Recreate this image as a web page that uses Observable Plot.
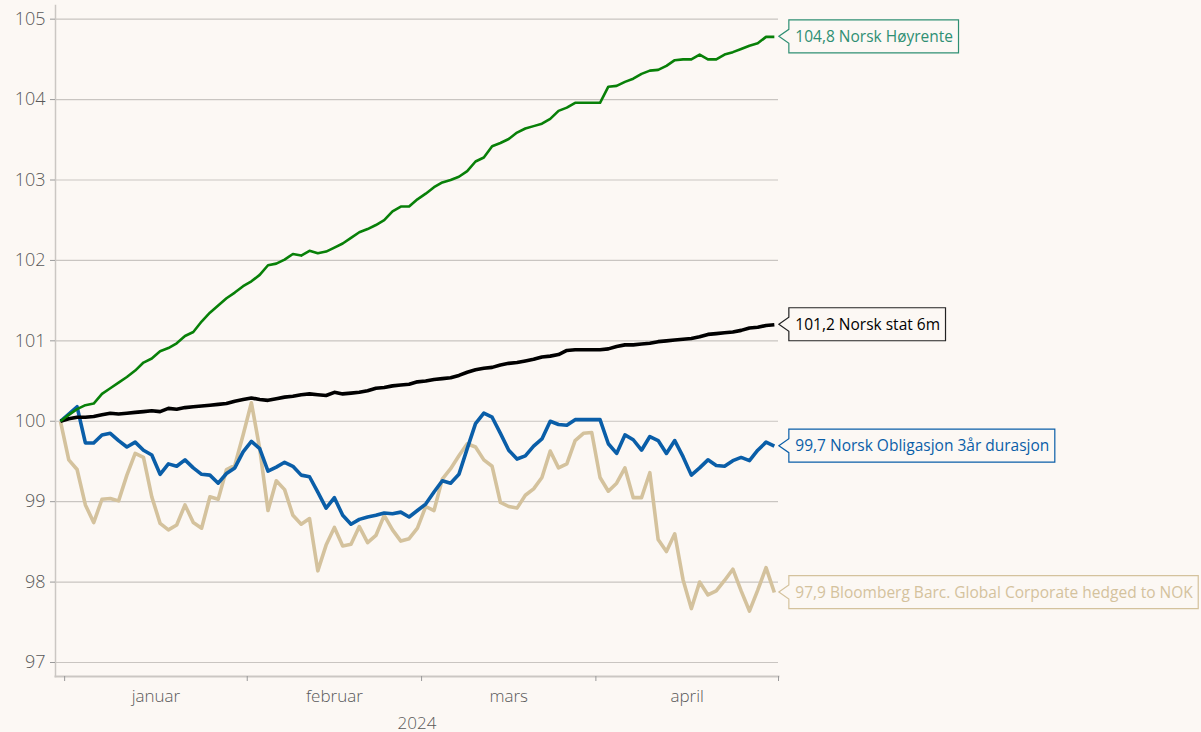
<!DOCTYPE html>
<html><head><meta charset="utf-8">
<script src="https://cdn.jsdelivr.net/npm/d3@7"></script>
<script src="https://cdn.jsdelivr.net/npm/@observablehq/plot@0.6"></script>
<style>
html,body{margin:0;padding:0;background:#fcf8f4;}
#chart svg{display:block;}
</style></head><body><div id="chart"></div>
<script>
// Category axis: base point + business days per month
const months = ["januar", "februar", "mars", "april"];
const monthDays = [22, 21, 21, 22];
const yearLabel = "2024";
const yTicks = [97, 98, 99, 100, 101, 102, 103, 104, 105];

const seriesNames = ["Norsk Høyrente", "Norsk stat 6m", "Norsk Obligasjon 3år durasjon", "Bloomberg Barc. Global Corporate hedged to NOK"];
const seriesColors = ["#088008", "#000000", "#0a5ea8", "#d4c29d"];
const labelColors = ["#2f8f73", "#000000", "#0a5ea8", "#d4c29d"];
const boxColors = ["#2f8f73", "#222222", "#0a5ea8", "#d4c29d"];

const hoyrente = [100, 100.08, 100.15, 100.2, 100.22, 100.34, 100.41, 100.48, 100.55, 100.63,
  100.73, 100.78, 100.87, 100.91, 100.97, 101.06, 101.11, 101.24, 101.35, 101.44,
  101.53, 101.6, 101.68, 101.74, 101.82, 101.94, 101.96, 102.01, 102.08, 102.06,
  102.12, 102.09, 102.11, 102.16, 102.21, 102.28, 102.35, 102.39, 102.44, 102.5,
  102.61, 102.67, 102.67, 102.76, 102.83, 102.91, 102.97, 103.0, 103.04, 103.11,
  103.23, 103.28, 103.42, 103.46, 103.51, 103.59, 103.64, 103.67, 103.7, 103.76,
  103.86, 103.9, 103.96, 103.96, 103.96, 103.96, 104.16, 104.17, 104.22, 104.26,
  104.32, 104.36, 104.37, 104.42, 104.49, 104.5, 104.5, 104.56, 104.5, 104.5,
  104.56, 104.59, 104.63, 104.67, 104.7, 104.78, 104.78];

const stat6m = [100, 100.03, 100.05, 100.05, 100.06, 100.08, 100.1, 100.09, 100.1, 100.11,
  100.12, 100.13, 100.12, 100.16, 100.15, 100.17, 100.18, 100.19, 100.2, 100.21,
  100.22, 100.25, 100.27, 100.29, 100.27, 100.26, 100.28, 100.3, 100.31, 100.33,
  100.34, 100.33, 100.32, 100.36, 100.34, 100.35, 100.36, 100.38, 100.41, 100.42,
  100.44, 100.45, 100.46, 100.49, 100.5, 100.52, 100.53, 100.54, 100.57, 100.61,
  100.64, 100.66, 100.67, 100.7, 100.72, 100.73, 100.75, 100.77, 100.8, 100.81,
  100.83, 100.88, 100.89, 100.89, 100.89, 100.89, 100.9, 100.93, 100.95, 100.95,
  100.96, 100.97, 100.99, 101.0, 101.01, 101.02, 101.03, 101.05, 101.08, 101.09,
  101.1, 101.11, 101.13, 101.16, 101.17, 101.19, 101.2];

const obligasjon = [100, 100.09, 100.18, 99.73, 99.73, 99.83, 99.85, 99.76, 99.68, 99.74,
  99.64, 99.58, 99.34, 99.47, 99.44, 99.52, 99.42, 99.34, 99.33, 99.23,
  99.35, 99.42, 99.62, 99.75, 99.66, 99.38, 99.43, 99.49, 99.44, 99.33,
  99.31, 99.12, 98.92, 99.05, 98.83, 98.72, 98.78, 98.81, 98.83, 98.86,
  98.85, 98.87, 98.81, 98.89, 98.97, 99.12, 99.26, 99.23, 99.34, 99.66,
  99.97, 100.1, 100.05, 99.85, 99.64, 99.53, 99.57, 99.69, 99.78, 100.0,
  99.96, 99.95, 100.02, 100.02, 100.02, 100.02, 99.72, 99.6, 99.83, 99.77,
  99.64, 99.81, 99.76, 99.6, 99.76, 99.56, 99.33, 99.42, 99.52, 99.45,
  99.44, 99.51, 99.55, 99.51, 99.64, 99.74, 99.69];

const bloomberg = [100, 99.52, 99.4, 98.96, 98.74, 99.03, 99.04, 99.01, 99.33, 99.6,
  99.55, 99.06, 98.73, 98.65, 98.71, 98.96, 98.74, 98.67, 99.06, 99.03,
  99.4, 99.45, 99.83, 100.23, 99.66, 98.89, 99.26, 99.15, 98.83, 98.72,
  98.79, 98.14, 98.46, 98.68, 98.45, 98.47, 98.69, 98.49, 98.58, 98.83,
  98.65, 98.51, 98.54, 98.67, 98.94, 98.89, 99.28, 99.41, 99.57, 99.72,
  99.68, 99.52, 99.44, 98.99, 98.94, 98.92, 99.08, 99.16, 99.3, 99.63,
  99.42, 99.47, 99.76, 99.85, 99.86, 99.3, 99.13, 99.23, 99.42, 99.05,
  99.05, 99.36, 98.53, 98.38, 98.6, 98.03, 97.67, 98.0, 97.84, 97.89,
  98.02, 98.16, 97.89, 97.64, 97.9, 98.18, 97.87];

const seriesValues = [hoyrente, stat6m, obligasjon, bloomberg];

// month boundaries (between categories) and centers
const bounds = [0.5];
monthDays.forEach(n => bounds.push(bounds[bounds.length - 1] + n));
const centers = months.map((m, i) => (bounds[i] + bounds[i + 1]) / 2);

const rows = [];
seriesValues.forEach((vals, s) => vals.forEach((v, i) => rows.push({i, v, s})));
const labels = seriesValues.map((vals, s) => ({
  i: vals.length - 1,
  v: vals[vals.length - 1],
  s,
  text: vals[vals.length - 1].toFixed(1).replace(".", ",") + " " + seriesNames[s]
}));

const font = "'Open Sans', 'Noto Sans', sans-serif";
const labelFontSize = 15.5;
const drawOrder = [3, 2, 1, 0];
const widths = [2.6, 3.6, 3.6, 3.6];

// text measurement for callout boxes
const ctx = document.createElement("canvas").getContext("2d");
ctx.font = `${labelFontSize}px 'Open Sans'`;

function calloutRender(index, scales, values, dimensions, context, next) {
  const g = next(index, scales, values, dimensions, context);
  const ns = "http://www.w3.org/2000/svg";
  const wrap = document.createElementNS(ns, "g");
  for (const k of index) {
    const X = values.x[k], Y = values.y[k];
    const w = ctx.measureText(labels[k].text).width;
    const left = X + 15, right = X + 21 + w + 6, tip = X + 5, nh = 7;
    const top = Y - 16.5, bot = Y + 16.5;
    const p = document.createElementNS(ns, "path");
    p.setAttribute("d", `M${left},${top}H${right}V${bot}H${left}V${Y + nh}L${tip},${Y}L${left},${Y - nh}Z`);
    p.setAttribute("fill", "#fcf8f4");
    p.setAttribute("stroke", boxColors[labels[k].s]);
    p.setAttribute("stroke-width", "1.2");
    wrap.appendChild(p);
  }
  wrap.appendChild(g);
  return wrap;
}

const plot = Plot.plot({
  width: 1201,
  height: 732,
  marginTop: 5,
  marginBottom: 56,
  marginLeft: 55,
  marginRight: 423,
  style: {background: "#fcf8f4", fontFamily: font, color: "#595959", overflow: "visible"},
  x: {type: "linear", domain: [-0.6, 86.5]},
  y: {domain: [96.826, 105.17]},
  marks: [
    Plot.ruleY(yTicks, {stroke: "#c9c5c1", strokeWidth: 1.1}),
    Plot.frame({anchor: "left", stroke: "#cbc7c3", strokeWidth: 1.5}),
    Plot.frame({anchor: "bottom", stroke: "#cbc7c3", strokeWidth: 2}),
    Plot.axisY(yTicks, {tickSize: 5, tickPadding: 5, fontSize: 18, fontWeight: 300, tickFormat: "d",
      stroke: "#9a9a9a", fill: "#595959", label: null}),
    Plot.axisX(bounds, {tickSize: 5, tickFormat: () => "", stroke: "#9a9a9a", label: null}),
    Plot.axisX(centers, {tickSize: 0, tickPadding: 13, fontSize: 17, fontWeight: 300, fill: "#595959",
      tickFormat: (d, i) => months[i], label: yearLabel, labelAnchor: "center", labelArrow: "none", labelOffset: 52}),
    ...drawOrder.map(s => Plot.line(rows.filter(d => d.s === s), {
      x: "i", y: "v", stroke: seriesColors[s], strokeWidth: widths[s], strokeLinejoin: "round", strokeLinecap: "butt"
    })),
    Plot.text(labels, {x: "i", y: "v", text: "text", dx: 21, textAnchor: "start", fontSize: labelFontSize,
      fontFamily: "'Open Sans', sans-serif", fill: d => labelColors[d.s], render: calloutRender})
  ]
});

document.getElementById("chart").appendChild(plot);
</script>
</body></html>
